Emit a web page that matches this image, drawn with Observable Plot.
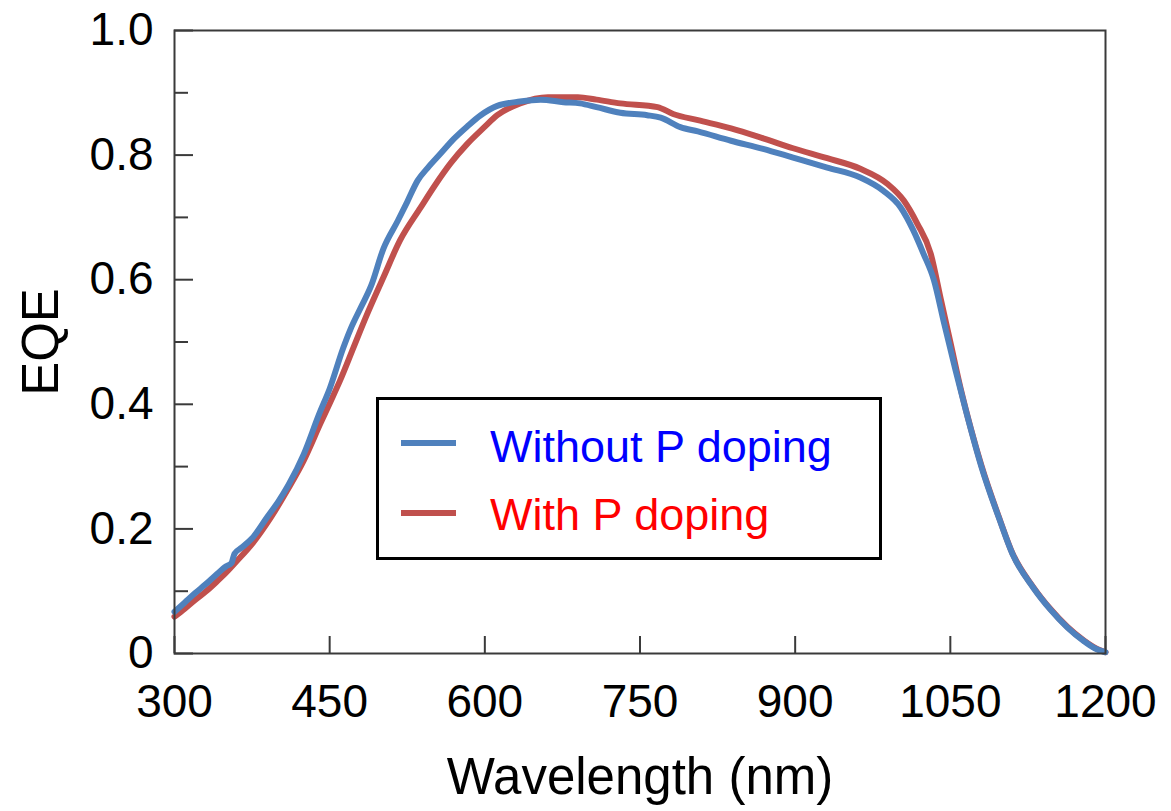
<!DOCTYPE html>
<html>
<head>
<meta charset="utf-8">
<script src="https://cdn.jsdelivr.net/npm/d3@7"></script>
<script src="https://cdn.jsdelivr.net/npm/@observablehq/plot@0.6"></script>
<style>
  html, body { margin: 0; padding: 0; background: #fff; }
  #wrap { position: relative; width: 1171px; height: 811px; font-family: "Liberation Sans", Arial, sans-serif; }
  #legend { position: absolute; left: 376px; top: 397px; width: 506px; height: 163px; box-sizing: border-box; border: 3px solid #000; background: #fff; }
  .sw { position: absolute; left: 22px; width: 55px; height: 6px; }
  .lt { position: absolute; left: 111px; font-size: 45px; line-height: 45px; white-space: nowrap; }
</style>
</head>
<body>
<div id="wrap"></div>
<script>
// Without P doping (blue)
const wavelengthWithout = [300,310,320,330,340,350,355,358,365,375,390,400,410,425,440,450,463,470,480,490,502,516,525,535,545,557,570,583,596,612,634,654,676,692,708,731,757,770,789,806,838,869,898,931,963,985,1002,1014,1024,1034,1044,1055,1065,1080,1098,1110,1130,1147,1163,1179,1190,1200];
const eqeWithout = [0.067,0.082,0.097,0.111,0.126,0.140,0.145,0.160,0.170,0.185,0.220,0.243,0.270,0.320,0.385,0.425,0.490,0.520,0.555,0.590,0.650,0.695,0.725,0.759,0.780,0.802,0.826,0.846,0.864,0.879,0.886,0.889,0.885,0.883,0.877,0.868,0.864,0.860,0.845,0.838,0.823,0.810,0.796,0.780,0.764,0.743,0.716,0.680,0.642,0.600,0.530,0.455,0.390,0.300,0.213,0.160,0.106,0.070,0.042,0.020,0.008,0.002];
// With P doping (red)
const wavelengthWith = [300,310,320,330,340,350,360,376,393,409,425,441,451,460,473,485,502,518,538,552,567,583,599,612,634,661,690,708,731,767,782,806,838,869,898,931,963,989,1005,1018,1031,1041,1050,1060,1070,1080,1098,1110,1130,1147,1163,1179,1190,1200];
const eqeWith = [0.059,0.072,0.086,0.099,0.114,0.130,0.148,0.178,0.218,0.262,0.310,0.369,0.405,0.438,0.491,0.540,0.604,0.663,0.716,0.752,0.787,0.818,0.844,0.864,0.883,0.893,0.893,0.889,0.883,0.877,0.866,0.856,0.843,0.827,0.811,0.795,0.778,0.754,0.727,0.690,0.642,0.567,0.500,0.425,0.360,0.302,0.214,0.161,0.107,0.071,0.043,0.021,0.009,0.002];

const seriesNames = ["Without P doping", "With P doping"];
const seriesColors = ["#4F81BD", "#C0504D"];
const labelColors = ["#0000FF", "#FF0000"];

const xTicks = [300, 450, 600, 750, 900, 1050, 1200];
const yTicks = [0, 0.2, 0.4, 0.6, 0.8, 1.0];
const yMinorTicks = [0.1, 0.3, 0.5, 0.7, 0.9];
const xLabel = "Wavelength (nm)";
const yLabel = "EQE";

const dataWithout = wavelengthWithout.map((w, i) => ({w, e: eqeWithout[i]}));
const dataWith = wavelengthWith.map((w, i) => ({w, e: eqeWith[i]}));

const W = 1171, H = 811;
const mL = 174, mR = 66, mT = 30, mB = 158;
const innerW = W - mL - mR, innerH = H - mT - mB;
const axisColor = "#3a3a3a";

const chart = Plot.plot({
  width: W, height: H,
  marginLeft: mL, marginRight: mR, marginTop: mT, marginBottom: mB,
  style: {fontFamily: "'Liberation Sans', Arial, sans-serif", fontSize: "46px", color: "#000", background: "#fff"},
  x: {domain: [300, 1200]},
  y: {domain: [0, 1]},
  marks: [
    Plot.tickY(yTicks, {y: d => d, stroke: axisColor, strokeWidth: 2, insetRight: innerW - 19}),
    Plot.tickY(yMinorTicks, {y: d => d, stroke: axisColor, strokeWidth: 2, insetRight: innerW - 14}),
    Plot.tickX(xTicks, {x: d => d, stroke: axisColor, strokeWidth: 2, insetTop: innerH - 17}),
    Plot.line(dataWith, {x: "w", y: "e", stroke: seriesColors[1], strokeWidth: 6, curve: "monotone-x"}),
    Plot.line(dataWithout, {x: "w", y: "e", stroke: seriesColors[0], strokeWidth: 6, curve: "monotone-x"}),
    Plot.frame({stroke: axisColor, strokeWidth: 2}),
    Plot.axisX({ticks: xTicks, tickSize: 0, tickPadding: 31, fontSize: 46, tickFormat: d => String(d), label: null}),
    Plot.axisY({ticks: yTicks, tickSize: 0, tickPadding: 21, fontSize: 46,
      tickFormat: d => d === 0 ? "0" : d.toFixed(1), label: null}),
    Plot.text([xLabel], {text: d => d, frameAnchor: "bottom", textAnchor: "middle", dy: 140, lineAnchor: "bottom", fontSize: 51, fill: "#000"}),
    Plot.text([yLabel], {text: d => d, frameAnchor: "left", textAnchor: "middle", dx: -153, rotate: -90, lineAnchor: "top", fontSize: 51, fill: "#000"})
  ]
});

const wrap = document.getElementById("wrap");
wrap.appendChild(chart);

const legend = document.createElement("div");
legend.id = "legend";
seriesNames.forEach((name, i) => {
  const sw = document.createElement("div");
  sw.className = "sw";
  sw.style.top = (40 + i * 70) + "px";
  sw.style.background = seriesColors[i];
  legend.appendChild(sw);
  const t = document.createElement("div");
  t.className = "lt";
  t.style.top = (24 + i * 68) + "px";
  t.style.color = labelColors[i];
  t.textContent = name;
  legend.appendChild(t);
});
wrap.appendChild(legend);
</script>
</body>
</html>
